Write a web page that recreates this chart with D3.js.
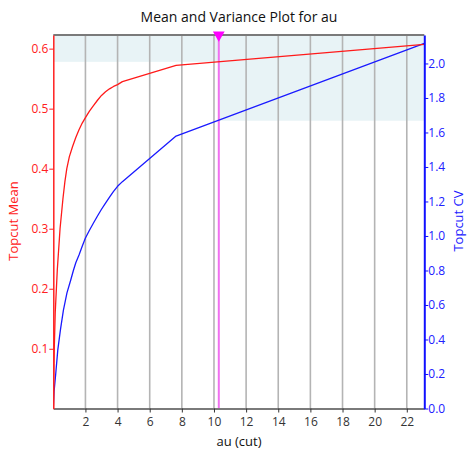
<!DOCTYPE html>
<html><head><meta charset="utf-8">
<script src="https://cdn.jsdelivr.net/npm/d3@7"></script>
<style>body{margin:0;background:#fff}svg{display:block}text{font-family:"Open Sans",sans-serif}</style>
</head><body><svg id="c" width="467" height="452"></svg>
<script>
const title = "Mean and Variance Plot for au";
const xLabel = "au (cut)", yLeftLabel = "Topcut Mean", yRightLabel = "Topcut CV";
const xTicks = [2,4,6,8,10,12,14,16,18,20,22];
const yLeftTicks = [0.1,0.2,0.3,0.4,0.5,0.6];
const yRightTicks = [0,0.2,0.4,0.6,0.8,1.0,1.2,1.4,1.6,1.8,2.0];
const cutX   = [0,0.02,0.06,0.12,0.25,0.42,0.6,0.72,0.84,1.0,1.2,1.4,1.6,1.8,2,2.25,2.5,2.75,3,3.25,3.5,3.75,4,4.3,7.64,23.09];
const meanY  = [0,0.05,0.1,0.16,0.232,0.3,0.35,0.378,0.4,0.42,0.437,0.452,0.465,0.476,0.485,0.496,0.505,0.514,0.522,0.528,0.533,0.537,0.540,0.545,0.572,0.607];
const cvX    = [0,0.05,0.15,0.28,0.45,0.63,0.85,1.09,1.25,1.4,1.6,1.8,2,2.25,2.5,2.75,3,3.25,3.5,3.75,4,4.3,7.64,23.09];
const cvY    = [0,0.1,0.2,0.34,0.46,0.57,0.67,0.746,0.80,0.845,0.89,0.94,0.988,1.033,1.075,1.116,1.155,1.191,1.225,1.258,1.288,1.315,1.579,2.116];
const selectedCut = 10.3;
const meanAtCut = 0.578, cvAtCut = 1.668;

const L=53.3,R=424.3,T=35,B=408.5;
const svg=d3.select("#c");
const x=d3.scaleLinear().domain([0,23.09]).range([L,R]);
const yl=d3.scaleLinear().domain([0,0.6227]).range([B+0.3,T]);
const yr=d3.scaleLinear().domain([0,2.165]).range([B,T]);

// shaded bands
svg.append("rect").attr("x",x(0)).attr("y",T).attr("width",x(23.09)-x(0)).attr("height",yl(meanAtCut)-T).attr("fill","#e8f3f6");
svg.append("rect").attr("x",x(selectedCut)).attr("y",T).attr("width",x(23.09)-x(selectedCut)).attr("height",yr(cvAtCut)-T).attr("fill","#e8f3f6");

// grid
svg.append("g").selectAll("line").data(xTicks).join("line")
 .attr("x1",d=>x(d)).attr("x2",d=>x(d)).attr("y1",T).attr("y2",B)
 .attr("stroke","#b4b4b4").attr("stroke-width",1.6);

// top border
svg.append("line").attr("x1",L).attr("x2",R).attr("y1",T).attr("y2",T).attr("stroke","#7a7a7a").attr("stroke-width",2);

// selected cut line
svg.append("line").attr("x1",x(selectedCut)).attr("x2",x(selectedCut)).attr("y1",T).attr("y2",B)
 .attr("stroke","#f070f0").attr("stroke-width",2);

svg.append("clipPath").attr("id","pc").append("rect").attr("x",L).attr("y",T).attr("width",R-L+2).attr("height",B-T);
const lineMean=d3.line().x((d,i)=>x(cutX[i])).y(d=>yl(d)).curve(d3.curveLinear);
const lineCv=d3.line().x((d,i)=>x(cvX[i])).y(d=>yr(d)).curve(d3.curveLinear);
svg.append("path").attr("d",lineCv(cvY)).attr("fill","none").attr("stroke","#1a1aff").attr("stroke-width",1.3).attr("stroke-linejoin","round").attr("clip-path","url(#pc)");
svg.append("path").attr("d",lineMean(meanY)).attr("fill","none").attr("stroke","#ff1a1a").attr("stroke-width",1.3).attr("stroke-linejoin","round").attr("clip-path","url(#pc)");

// bottom axis
const xa=svg.append("g").attr("transform",`translate(0,${B})`).call(d3.axisBottom(x).tickValues(xTicks).tickSize(4).tickSizeOuter(0));
xa.select(".domain").attr("stroke","#7a7a7a").attr("stroke-width",2);
xa.selectAll(".tick line").attr("stroke","#333");
xa.selectAll("text").attr("fill","#333").attr("font-size",12).attr("font-family","Open Sans").attr("dy","0.9em");

// left axis
const la=svg.append("g").attr("transform",`translate(${L},0)`).call(d3.axisLeft(yl).tickValues(yLeftTicks).tickSize(4).tickSizeOuter(0).tickFormat(d3.format(".1f")));
la.select(".domain").attr("stroke","#ff2020").attr("stroke-width",1.5);
la.selectAll(".tick line").attr("stroke","#ff2020");
la.selectAll("text").attr("fill","#ff2020").attr("font-size",12).attr("font-family","Open Sans").attr("x",-5);

// right axis
const ra=svg.append("g").attr("transform",`translate(${R},0)`).call(d3.axisRight(yr).tickValues(yRightTicks).tickSize(4).tickSizeOuter(0).tickFormat(d3.format(".1f")));
ra.select(".domain").attr("stroke","#1010ff").attr("stroke-width",2);
ra.selectAll(".tick line").attr("stroke","#1010ff");
ra.selectAll("text").attr("fill","#2020ff").attr("font-size",12).attr("font-family","Open Sans").attr("x",4);

// triangle marker
svg.append("path").attr("d",d3.symbol().type(d3.symbolTriangle).size(60)).attr("transform",`translate(${x(selectedCut)},35) rotate(180)`).attr("fill","#ff00ff");

// texts
svg.append("text").attr("x",239).attr("y",22).attr("text-anchor","middle").attr("font-size",14).attr("fill","#111").text(title);
svg.append("text").attr("x",239).attr("y",446).attr("text-anchor","middle").attr("font-size",13).attr("fill","#111").text(xLabel);
svg.append("text").attr("transform","translate(18,221) rotate(-90)").attr("text-anchor","middle").attr("font-size",13).attr("fill","#ff2020").text(yLeftLabel);
svg.append("text").attr("transform","translate(463,221) rotate(-90)").attr("text-anchor","middle").attr("font-size",13).attr("fill","#2020ff").text(yRightLabel);
</script></body></html>
